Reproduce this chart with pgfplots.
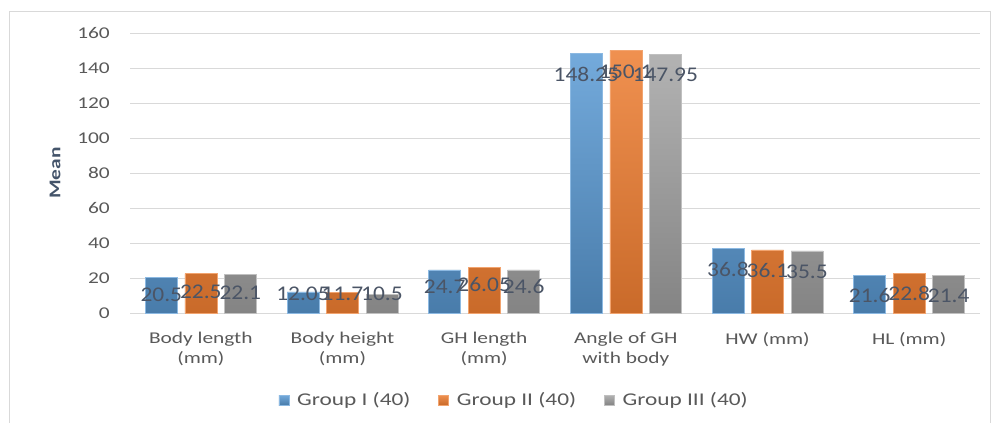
\documentclass[border=0pt]{standalone}
\usepackage{pgfplots}
\pgfplotsset{compat=1.18}
\usepackage{pgfplotstable}
\usepackage{fontspec}
\setmainfont{Carlito}[FakeStretch=1.3]
\newfontfamily\lblfont{Carlito}[FakeStretch=1.12]

\definecolor{gblue}{HTML}{5B9BD5}
\definecolor{gorange}{HTML}{ED7D31}
\definecolor{ggray}{HTML}{A5A5A5}
\definecolor{tickc}{HTML}{595959}
\definecolor{gridc}{HTML}{D9D9D9}
\definecolor{lblc}{HTML}{44546A}
\definecolor{valc}{HTML}{4B5566}

% x value offset(bp) -- offset moves the value label from the bar top
\pgfplotstableread{
x y off
0 20.5 -18
1 12.05 -2.1
2 24.7 -17
3 148.25 -21
4 36.8 -21
5 21.6 -20
}\groupone
\pgfplotstableread{
x y off
0 22.5 -18
1 11.7 -1.5
2 26.05 -17
3 150.1 -21
4 36.1 -21
5 22.8 -20
}\grouptwo
\pgfplotstableread{
x y off
0 22.1 -18
1 10.5 0.6
2 24.6 -17
3 147.95 -21
4 35.5 -21
5 21.4 -20
}\groupthree

\begin{document}
\begin{tikzpicture}
\useasboundingbox (0bp,0bp) rectangle (992bp,-423bp);
\draw[gridc, line width=1bp] (9bp,-11bp) rectangle (990bp,-440bp);
\begin{axis}[
  at={(130bp,-313bp)}, anchor=south west,
  scale only axis, width=850bp, height=280bp,
  ybar=7.5bp, bar width=32bp,
  xmin=-0.5, xmax=5.5, ymin=0, ymax=160,
  ytick={0,20,...,160},
  xtick=data,
  xticklabels={Body length\\(mm), Body height\\(mm), GH length\\(mm),
    Angle of GH\\with body, HW (mm), HL (mm)},
  /pgf/number format/assume math mode=true,
  axis line style={draw=none},
  axis x line*=bottom,
  major tick style={draw=none},
  ymajorgrids, grid style={gridc, line width=0.8bp},
  extra y ticks={0}, extra y tick labels={},
  extra y tick style={grid style={gridc, line width=1bp}},
  tick label style={font=\fontsize{16.5}{20}\selectfont, text=tickc},
  yticklabel style={inner sep=0pt, xshift=-20bp},
  xticklabel style={align=center, inner sep=0pt, yshift=-15bp},
  ylabel={Mean},
  ylabel style={at={(axis description cs:-0.0882,0.5)}, anchor=center,
    font=\fontsize{16.5}{20}\selectfont\bfseries, text=lblc},
  nodes near coords,
  visualization depends on={\thisrow{off} \as \off},
  every node near coord/.append style={anchor=center, yshift=\off bp,
    font=\lblfont\fontsize{21}{24}\selectfont, text=valc, inner sep=0pt},
  legend columns=3,
  legend style={at={(axis description cs:0.452,-0.3107)}, anchor=center,
    draw=none, font=\fontsize{18}{20}\selectfont, text=tickc,
    /tikz/every odd column/.append style={column sep=6bp},
    /tikz/every even column/.append style={column sep=26bp}},
  legend image code/.code={\fill[#1] (0bp,-5bp) rectangle (10bp,5bp);},
]
\addplot[draw=gblue!70!white, top color=gblue!85!white, bottom color=gblue!80!black]
  table[x=x, y=y] {\groupone};
\addplot[draw=gorange!70!white, top color=gorange!85!white, bottom color=gorange!85!black]
  table[x=x, y=y] {\grouptwo};
\addplot[draw=ggray!70!white, top color=ggray!85!white, bottom color=ggray!80!black]
  table[x=x, y=y] {\groupthree};
\legend{Group I (40), Group II (40), Group III (40)}
\end{axis}
\end{tikzpicture}
\end{document}
